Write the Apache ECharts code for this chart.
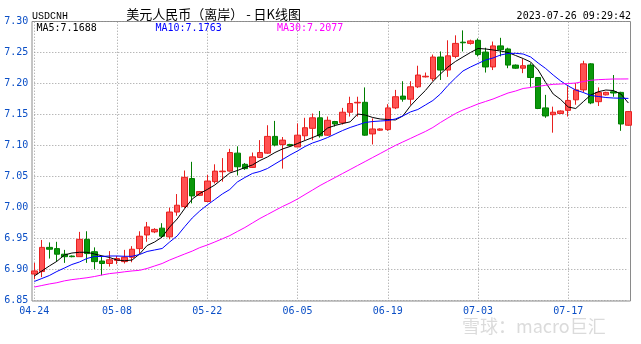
<!DOCTYPE html>
<html><head><meta charset="utf-8">
<script src="https://cdn.jsdelivr.net/npm/echarts@6/dist/echarts.min.js"></script>
<style>html,body{margin:0;padding:0;background:#fff}#c{width:641px;height:344px}</style>
</head><body><div id="c"></div>
<script>
const dates = ['04-24','04-25','04-26','04-27','04-28','04-29','05-02','05-03','05-04','05-05','05-06',
'05-08','05-09','05-10','05-11','05-12','05-13','05-15','05-16','05-17','05-18','05-19','05-20',
'05-22','05-23','05-24','05-25','05-26','05-27','05-29','05-30','05-31','06-01','06-02','06-03',
'06-05','06-06','06-07','06-08','06-09','06-10','06-12','06-13','06-14','06-15','06-16','06-17',
'06-19','06-20','06-21','06-22','06-23','06-24','06-26','06-27','06-28','06-29','06-30','07-01',
'07-03','07-04','07-05','07-06','07-07','07-08','07-10','07-11','07-12','07-13','07-14','07-15',
'07-17','07-18','07-19','07-20','07-21','07-22','07-24','07-25','07-26'];
const labelDates = ['04-24','05-08','05-22','06-05','06-19','07-03','07-17'];
const yTicks = [6.85,6.90,6.95,7.00,7.05,7.10,7.15,7.20,7.25,7.30];

const opens = [6.893,6.897,6.936,6.934,6.925,6.922,6.921,6.949,6.929,6.914,
6.910,6.915,6.913,6.920,6.934,6.956,6.961,6.967,6.953,6.993,
7.002,7.047,7.020,7.010,7.042,7.058,7.059,7.088,7.070,7.065,
7.081,7.088,7.115,7.102,7.102,7.098,7.116,7.128,7.145,7.117,
7.139,7.137,7.154,7.169,7.170,7.119,7.125,7.126,7.161,7.180,
7.175,7.195,7.211,7.208,7.243,7.222,7.244,7.267,7.265,7.270,
7.251,7.227,7.261,7.256,7.230,7.225,7.230,7.210,7.161,7.150,
7.152,7.157,7.174,7.190,7.232,7.171,7.182,7.187,7.186,7.133];
const closes = [6.898,6.936,6.933,6.925,6.921,6.921,6.949,6.926,6.913,6.910,
6.916,6.918,6.920,6.933,6.954,6.969,6.965,6.954,6.993,7.004,
7.049,7.019,7.026,7.043,7.059,7.059,7.089,7.066,7.063,7.082,
7.089,7.115,7.101,7.109,7.100,7.117,7.129,7.145,7.116,7.141,
7.135,7.154,7.168,7.170,7.117,7.127,7.127,7.161,7.179,7.175,
7.195,7.214,7.212,7.243,7.222,7.245,7.265,7.266,7.269,7.247,
7.227,7.261,7.255,7.230,7.225,7.229,7.210,7.160,7.148,7.154,
7.156,7.173,7.190,7.232,7.169,7.186,7.186,7.185,7.135,7.155];
const lows = [6.885,6.888,6.918,6.913,6.911,6.920,6.921,6.911,6.901,6.891,
6.905,6.909,6.910,6.912,6.926,6.945,6.959,6.951,6.949,6.987,
6.999,7.007,7.019,7.010,7.039,7.042,7.058,7.052,7.061,7.064,
7.080,7.087,7.099,7.063,7.099,7.098,7.109,7.109,7.113,7.116,
7.131,7.134,7.147,7.147,7.116,7.102,7.124,7.124,7.159,7.171,
7.166,7.193,7.210,7.204,7.206,7.211,7.241,7.252,7.263,7.244,
7.218,7.222,7.244,7.225,7.224,7.217,7.195,7.159,7.145,7.121,
7.151,7.147,7.166,7.186,7.167,7.164,7.181,7.179,7.124,7.132];
const highs = [6.911,6.948,6.944,6.945,6.932,6.923,6.961,6.962,6.936,6.922,
6.930,6.922,6.932,6.938,6.962,6.977,6.967,6.975,7.000,7.022,
7.060,7.074,7.027,7.053,7.070,7.080,7.095,7.099,7.072,7.089,
7.109,7.133,7.140,7.114,7.103,7.136,7.145,7.152,7.156,7.147,
7.140,7.161,7.179,7.179,7.194,7.144,7.128,7.167,7.190,7.204,
7.204,7.229,7.218,7.247,7.252,7.270,7.278,7.286,7.271,7.273,
7.258,7.268,7.274,7.258,7.231,7.240,7.233,7.210,7.182,7.163,
7.157,7.196,7.201,7.237,7.233,7.194,7.187,7.214,7.187,7.156];

const ma5 = [6.8898,6.8979,6.906,6.9135,6.9237,6.9269,6.9281,6.9281,6.9253,6.9224,
6.9197,6.9156,6.9144,6.9156,6.9253,6.939,6.9447,6.9527,6.9689,6.9818,
6.9987,7.014,7.0229,7.0294,7.0366,7.0463,7.056,7.06,7.0648,7.0689,
7.0761,7.0818,7.089,7.0947,7.0987,7.1035,7.1084,7.1132,7.1181,7.1285,
7.1326,7.1358,7.1385,7.1511,7.1495,7.1455,7.1431,7.1423,7.1415,7.1479,
7.164,7.1769,7.189,7.2035,7.2156,7.2269,7.2358,7.2431,7.2503,7.2568,
7.256,7.2544,7.2527,7.2503,7.2455,7.2406,7.235,7.2221,7.2019,7.1834,
7.1745,7.1624,7.16,7.171,7.1818,7.1871,7.1898,7.189,7.1834,7.1688];
const ma10 = [6.881,6.8858,6.8906,6.8971,6.9027,6.9084,6.9124,6.9181,6.9213,6.9213,
6.9221,6.9221,6.9216,6.9216,6.9245,6.9294,6.9318,6.9342,6.9447,6.9544,
6.9694,6.9834,6.9947,7.0044,7.0132,7.0221,7.0294,7.0415,7.0487,7.0552,
7.0584,7.0632,7.0705,7.0777,7.085,7.0915,7.0987,7.1044,7.1084,7.1132,
7.1189,7.1245,7.1294,7.1334,7.1374,7.139,7.1398,7.1406,7.1431,7.1479,
7.1544,7.1584,7.1656,7.1729,7.1834,7.1971,7.2092,7.2205,7.2269,7.2326,
7.2382,7.2415,7.2463,7.2487,7.249,7.2479,7.2431,7.2334,7.2245,7.214,
7.2044,7.1963,7.1898,7.1858,7.181,7.1794,7.1777,7.1769,7.1766,7.1763];
const ma30 = [6.872,6.8745,6.877,6.879,6.882,6.884,6.8855,6.887,6.889,6.8915,
6.8937,6.895,6.8966,6.898,6.899,6.902,6.906,6.91,6.9156,6.9205,
6.9253,6.93,6.9356,6.9398,6.9447,6.9498,6.955,6.9616,6.968,6.9753,
6.9826,6.989,6.9955,7.0019,7.0076,7.014,7.0213,7.0285,7.0358,7.0423,
7.0487,7.0552,7.0616,7.0681,7.0745,7.081,7.0874,7.0939,7.1003,7.106,
7.1116,7.1173,7.1229,7.1294,7.1374,7.1447,7.1519,7.1576,7.1624,7.1673,
7.1713,7.1753,7.1802,7.185,7.1882,7.1923,7.1939,7.1958,7.1974,7.199,
7.1995,7.2002,7.2011,7.2035,7.2055,7.2065,7.2071,7.2076,7.2076,7.2077];

const symbolName = 'USDCNH';
const titleText = '美元人民币（离岸） - 日K线图';
const timeText = '2023-07-26 09:29:42';
const watermark = '雪球：macro巨汇';

const candles = dates.map((d, i) => [opens[i], closes[i], lows[i], highs[i]]);
const labelSet = new Set(labelDates);
const showIdx = (i) => labelSet.has(dates[i]);
const last = (a) => a[a.length - 1].toFixed(4);
const MONO = '"DejaVu Sans Mono", monospace';
const AXIS_BLUE = '#0b4fc6';
const GRID_DOT = '#9a9a9a';

const chart = echarts.init(document.getElementById('c'), null, {renderer: 'canvas'});
chart.setOption({
  animation: false,
  backgroundColor: '#ffffff',
  grid: [
    {left: 34.3, right: 12.6, top: 21.7, bottom: 43.3, show: false},
    {left: 32, right: 10.5, top: 21.5, bottom: 43, show: true, borderColor: '#8a8a8a', borderWidth: 1, backgroundColor: 'transparent'}
  ],
  xAxis: [
    {type: 'category', gridIndex: 0, data: dates, boundaryGap: false,
     axisLine: {show: false}, axisTick: {show: false},
     axisLabel: {interval: (i) => showIdx(i), color: AXIS_BLUE, fontFamily: MONO, fontSize: 10, margin: 6},
     splitLine: {show: true, interval: (i) => showIdx(i), lineStyle: {color: GRID_DOT, width: 1, type: [1, 2]}}},
    {type: 'value', gridIndex: 1, show: false, min: 0, max: 1}
  ],
  yAxis: [
    {type: 'value', gridIndex: 0, min: yTicks[0], max: yTicks[yTicks.length - 1], interval: 0.05,
     axisLine: {show: false}, axisTick: {show: false},
     axisLabel: {formatter: (v) => v.toFixed(2), color: AXIS_BLUE, fontFamily: MONO, fontSize: 10, margin: 6},
     splitLine: {show: true, lineStyle: {color: GRID_DOT, width: 1, type: [1, 2]}}},
    {type: 'value', gridIndex: 1, show: false, min: 0, max: 1}
  ],
  series: [
    {type: 'candlestick', xAxisIndex: 0, yAxisIndex: 0, data: candles, barWidth: 6, clip: false, silent: true,
     itemStyle: {color: '#ff5252', borderColor: '#e8201f', color0: '#0a980a', borderColor0: '#007d00', borderWidth: 1}},
    {type: 'line', name: 'MA5', data: ma5, symbol: 'none', silent: true, z: 3, lineStyle: {width: 1, color: '#000000'}},
    {type: 'line', name: 'MA10', data: ma10, symbol: 'none', silent: true, z: 3, lineStyle: {width: 1, color: '#0000ff'}},
    {type: 'line', name: 'MA30', data: ma30, symbol: 'none', silent: true, z: 3, lineStyle: {width: 1, color: '#ff00ff'}}
  ],
  graphic: [
    {type: 'text', x: 32, y: 16, style: {text: symbolName, font: '10px "Liberation Mono", monospace', fill: '#000', verticalAlign: 'middle'}},
    {type: 'text', x: 213.6, y: 14, style: {text: titleText, font: '13px "Noto Sans CJK SC"', fill: '#000', align: 'center', verticalAlign: 'middle'}},
    {type: 'text', x: 631, y: 16, style: {text: timeText, font: '10px ' + MONO, fill: '#000', align: 'right', verticalAlign: 'middle'}},
    {type: 'text', x: 36.5, y: 28, style: {text: 'MA5:' + last(ma5), font: '10px ' + MONO, fill: '#000', verticalAlign: 'middle'}},
    {type: 'text', x: 155.5, y: 28, style: {text: 'MA10:' + last(ma10), font: '10px ' + MONO, fill: '#0000ff', verticalAlign: 'middle'}},
    {type: 'text', x: 277, y: 28, style: {text: 'MA30:' + last(ma30), font: '10px ' + MONO, fill: '#ff00ff', verticalAlign: 'middle'}},
    {type: 'text', x: 462, y: 326, style: {text: watermark, font: '18px "Noto Sans CJK SC"', fill: 'rgba(190,190,190,0.55)', verticalAlign: 'middle'}}
  ]
});
</script>
</body></html>
